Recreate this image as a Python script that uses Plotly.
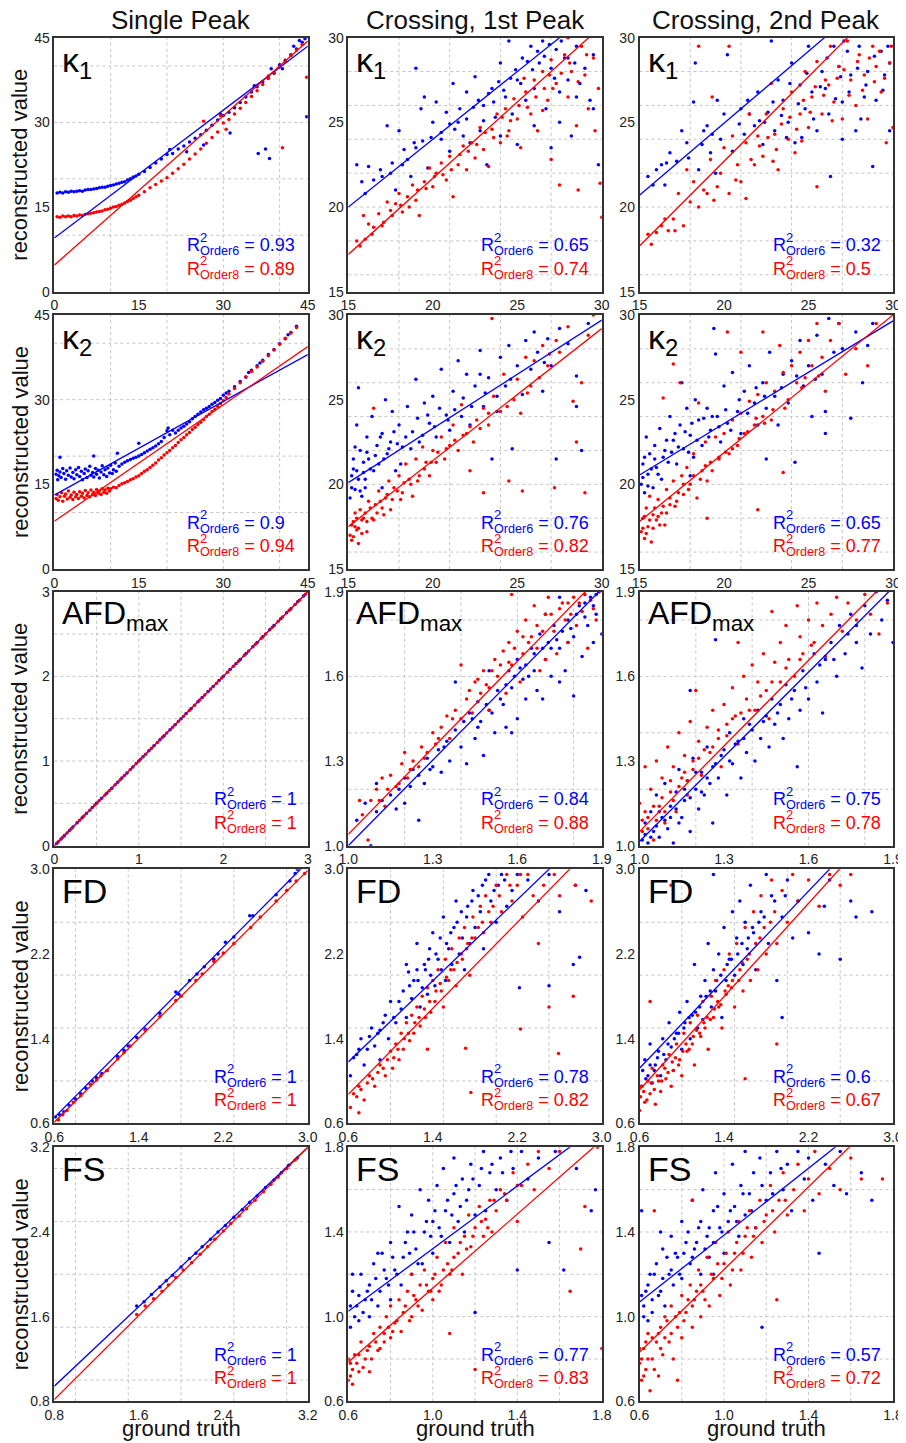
import plotly.graph_objects as go

FONT = "Liberation Sans"
BLUE = "rgb(0,0,255)"
RED = "rgb(255,0,0)"

col_titles = ["Single Peak", "Crossing, 1st Peak", "Crossing, 2nd Peak"]
row_labels = ["κ<sub>1</sub>", "κ<sub>2</sub>", "AFD<sub>max</sub>", "FD", "FS"]
r2_order6 = [["0.93", "0.65", "0.32"], ["0.9", "0.76", "0.65"], ["1", "0.84", "0.75"],
             ["1", "0.78", "0.6"], ["1", "0.77", "0.57"]]
r2_order8 = [["0.89", "0.74", "0.5"], ["0.94", "0.82", "0.77"], ["1", "0.88", "0.78"],
             ["1", "0.82", "0.67"], ["1", "0.83", "0.72"]]

# ---- axis ranges / ticks / dotted grid positions ----
kappa_sp_range = [0, 45]
kappa_sp_ticks = [0, 15, 30, 45]
kappa_sp_grid = [10, 20, 30, 40]
kappa_cr_range = [15, 30]
kappa_cr_ticks = [15, 20, 25, 30]
kappa_cr_xgrid = [18, 21, 24, 27]
kappa_cr_ygrid = [16, 18, 20, 22, 24, 26, 28]
afd_sp_range = [0, 3]
afd_sp_ticks = [0, 1, 2, 3]
afd_sp_grid = [0.5, 1.0, 1.5, 2.0, 2.5]
afd_cr_range = [1.0, 1.9]
afd_cr_ticks = [1.0, 1.3, 1.6, 1.9]
afd_cr_grid = [1.2, 1.4, 1.6, 1.8]
fd_range = [0.6, 3.0]
fd_ticks = [0.6, 1.4, 2.2, 3.0]
fd_grid = [1.0, 1.5, 2.0, 2.5]
fd_sp_xgrid = [0.8, 1.3, 1.8, 2.3, 2.8]
fs_sp_range = [0.8, 3.2]
fs_sp_ticks = [0.8, 1.6, 2.4, 3.2]
fs_sp_grid = [1.0, 1.5, 2.0, 2.5, 3.0]
fs_cr_range = [0.6, 1.8]
fs_cr_ticks = [0.6, 1.0, 1.4, 1.8]
fs_cr_grid = [0.8, 1.0, 1.2, 1.4, 1.6]

# ---- fitted lines: y values at the two ends of the x range ----
k1_sp_fit_blue = [9.5, 43.5]
k1_sp_fit_red = [4.7, 44.4]
k1_c1_fit_blue = [20.0, 32.0]
k1_c1_fit_red = [17.2, 30.7]
k1_c2_fit_blue = [20.7, 33.45]
k1_c2_fit_red = [17.7, 32.7]
k2_sp_fit_blue = [13.1, 38.0]
k2_sp_fit_red = [8.45, 39.4]
k2_c1_fit_blue = [20.1, 29.7]
k2_c1_fit_red = [17.5, 29.2]
k2_c2_fit_blue = [20.55, 29.65]
k2_c2_fit_red = [17.8, 30.0]
afd_sp_fit_blue = [0.0, 3.0]
afd_sp_fit_red = [0.0, 3.0]
afd_c1_fit_blue = [1.0, 1.91]
afd_c1_fit_red = [1.04, 1.96]
afd_c2_fit_blue = [1.015, 1.915]
afd_c2_fit_red = [1.05, 1.96]
fd_sp_fit_blue = [0.654, 3.07]
fd_sp_fit_red = [0.61, 2.99]
fd_c1_fit_blue = [1.18, 3.48]
fd_c1_fit_red = [0.874, 3.31]
fd_c2_fit_blue = [1.12, 3.63]
fd_c2_fit_red = [0.915, 3.56]
fs_sp_fit_blue = [0.943, 3.2]
fs_sp_fit_red = [0.817, 3.2]
fs_c1_fit_blue = [1.025, 1.913]
fs_c1_fit_red = [0.785, 1.834]
fs_c2_fit_blue = [1.069, 2.017]
fs_c2_fit_red = [0.832, 2.003]

# ---- scatter points (ground truth, reconstructed) ----
k1_sp_blue = [(0.5,17.5),(1,17.6),(1.5,17.5),(2,17.7),(2.5,17.6),(3,17.8),(3.5,17.7),(4,17.8),(4.5,17.9),(5,17.8),
    (5.5,18),(6,18.1),(6.5,18.1),(7,18.2),(7.5,18.3),(8,18.4),(8.5,18.5),(9,18.5),(9.5,18.7),(10,18.8),
    (10.5,18.9),(11,19.1),(11.5,19.2),(12,19.4),(12.5,19.5),(13,19.8),(13.5,20),(14,20.3),(14.5,20.5),(15,20.8),
    (16,21.3),(17,22),(18,22.8),(19,23.5),(20,24.3),(20.5,25.2),(21,24.5),(22,25.3),(23,25.8),(23.5,24.8),
    (24,26.5),(25,27.2),(26,27.8),(26.5,26),(27,28.6),(28,29.5),(29,30.4),(29.5,31.5),(30,31.2),(31,31.8),
    (31.2,28.1),(32,32.6),(33,33.5),(34,34.5),(35,35.4),(35.5,36.5),(36,36.3),(36.2,24.5),(37,37.2),(37.5,25.3),
    (38,37.8),(38.2,23.6),(38.5,39.5),(39,38.7),(40,40.2),(40.5,39.5),(41,41),(42,42),(42.5,43.5),(43,43),
    (43.5,44.5),(44,44.2),(44.5,44.8),(44.8,31)]
k1_sp_red = [(0.5,13.3),(1,13.2),(1.5,13.4),(2,13.3),(2.5,13.4),(3,13.3),(3.5,13.5),(4,13.4),(4.5,13.6),(5,13.5),
    (5.5,13.7),(6,13.8),(6.5,13.9),(7,14),(7.5,14.1),(8,14.2),(8.5,14.3),(9,14.5),(9.5,14.6),(10,14.8),
    (10.5,15),(11,15.1),(11.5,15.3),(12,15.5),(12.5,15.7),(13,16),(13.5,16.2),(14,16.5),(14.5,16.8),(15,17.1),
    (16,17.7),(17,18.4),(18,19),(19,19.6),(20,20.2),(21,21),(22,21.8),(23,22.6),(24,23.5),(25,24.4),
    (26,25.3),(26.5,30.2),(27,26.3),(28,27.3),(29,28.3),(29.5,31.2),(30,29.9),(30.5,28.8),(31,30.5),(32,31.5),
    (33,32.5),(34,33.5),(35,34.6),(36,35.6),(37,36.7),(38,37.8),(38,38.2),(39,38.8),(40,39.8),(40.5,25.5),
    (41,40.8),(42,41.8),(43,42.8),(44,43.8),(44.8,38)]
k1_c1_blue = [(15.5,22.5),(15.8,21.5),(16,20.8),(16.2,22.4),(16.5,21.6),(17,21.8),(17.3,24.8),(17.5,22),(17.8,21),
    (18,24.5),(18.2,22.5),(18.5,22.8),(18.7,21.8),(19,28.2),(19,23.5),(19.3,25.8),(19.5,26.5),(19.7,22.3),(20,25),
    (20.2,26.2),(20.5,24),(20.8,25.6),(21,23.3),(21.2,27.3),(21.5,25),(21.8,24.2),(22,26.8),(22.2,23.8),(22.5,27.7),
    (22.8,24.5),(23,26),(23.2,22.5),(23.5,27),(23.7,25.3),(24,28.5),(24,24.2),(24.3,26.5),(24.5,29.8),(24.7,25.5),
    (25,27.5),(25,23.7),(25.3,28.8),(25.5,26.3),(25.8,29.5),(26,27),(26,24.8),(26.3,28.5),(26.5,29.8),(26.7,25.8),
    (27,28.2),(27,23.5),(27.3,29.3),(27.5,26.8),(27.8,28.8),(28,27.5),(28.2,24.2),(28.5,29.5),(28.7,27.3),(29,28.2),
    (29.3,26.3),(29.5,29),(29.8,22.5),(29.5,25.8),(28.5,26.5),(27.5,25)]
k1_c1_blue_more = [(20.5,24.4),(21,24.9),(21.3,24.6),(21.6,25.8),(22,25.2),(22.4,25.9),(22.7,26.3),(23,25.1),(23.3,26.7),
    (23.6,26.2),(23.9,27.4),(24.2,26.9),(24.6,27.6),(24.9,28.1),(25.2,27.3),(25.6,28.6),(25.9,28.1),(26.2,29.2),(26.6,28.9),
    (26.9,29.6),(27.2,27.6),(27.6,29.8),(28,28.8),(28.4,28.5),(18.3,23.4),(18.9,23.8),(19.4,23.9),(19.9,24.1),(17.6,22.6),
    (16.9,22.2)]
k1_c1_red = [(15.5,18),(15.7,17.7),(15.9,19.5),(16.2,19),(16.5,18.8),(16.8,19.6),(17,18.9),(17.3,20.3),(17.5,19.8),
    (17.8,20.2),(18,20.8),(18.2,19.7),(18.5,20.6),(18.8,21.3),(19,20.4),(19.2,19.5),(19.5,21.5),(19.8,22.3),(20,21.2),
    (20.2,22),(20.5,22.6),(20.8,21.6),(21,23),(21.2,20.6),(21.5,22.5),(21.8,23.6),(22,22.2),(22.3,23.8),(22.5,22.9),
    (22.8,24.7),(23,23.4),(23.3,22.4),(23.5,24.6),(23.8,25.5),(24,23.8),(24.3,25.8),(24.5,24.5),(24.8,26.4),(25,25.2),
    (25.2,23.5),(25.5,26.8),(25.8,25.5),(26,27.5),(26.2,24.5),(26.5,28),(26.8,26.3),(27,28.7),(27,22.8),(27.3,27.3),
    (27.5,21.3),(27.8,29),(28,26.5),(28.2,28),(28.5,24.8),(28.6,21),(28.8,29.5),(29,27.8),(29.2,25.8),(29.5,28.8),
    (29.8,27),(30,19.4),(29.9,21.4),(28,30),(26.5,25.7),(29.6,24.5)]
k1_c1_red_more = [(16.0,18.1),(16.4,18.4),(17.1,19.1),(17.6,19.5),(18.1,20.1),(18.6,20.0),(19.1,21),(19.6,21.1),(20.1,21.8),
    (20.6,21.9),(21.1,22.2),(21.6,23.1),(22.1,23.3),(22.6,23.7),(23.1,24.4),(23.6,24.1),(24.1,25.3),(24.6,25.1),(25.1,26.0),
    (25.6,25.9),(26.1,26.5),(26.6,27.0),(27.1,27.0),(27.6,27.9),(28.1,28.5),(28.6,27.4),(29.1,29.0),(26.9,27.8),(25.4,27.6),
    (24.4,24.2)]
k1_c2_blue = [(15.5,21.8),(15.8,21.3),(16,22.2),(16.3,22.5),(16.5,21.3),(16.8,23.2),(17.2,22.7),(17.5,24.5),(17.8,23.8),
    (18.2,26.2),(18.3,28.5),(18.5,22.2),(18.8,24.5),(19,24.8),(19.2,23.2),(19.5,22),(19.6,26.3),(19.8,24),(20,25.5),
    (20.2,29),(20.5,23.3),(21,25.8),(21.2,24.3),(21.5,25.5),(21.8,24.8),(22,26.8),(22.3,23.7),(22.6,25.6),(22.8,29.8),
    (23,24.5),(23.2,27.5),(23.5,26.3),(23.8,25),(24,28.5),(24.2,23.8),(24.5,27.2),(24.8,25.8),(25,29.5),(25.2,26.8),
    (25.5,24.5),(25.8,28),(26,27),(26.2,25.5),(26.5,29.5),(26.8,28.3),(27,26.2),(27.3,29.2),(27.5,27.8),(27.8,24.5),
    (28,29.5),(28.3,26.5),(28.5,28),(28.8,22.4),(29,26.3),(29.3,29.2),(29.5,27.8),(29.8,24.5),(29.7,29.5),(27,24),
    (26.3,21.8)]
k1_c2_blue_more = [(20.9,24.9),(21.4,26.3),(22.1,25.1),(22.9,26.2),(23.4,25.4),(23.9,27.3),(24.4,26.1),(24.9,27.9),(25.3,25.2),
    (25.7,27.1),(26.1,28.8),(26.6,26.4),(26.9,27.7),(27.4,26.8),(27.9,28.2),(28.4,27.2),(28.9,28.9),(29.4,26.9),(29.8,28.5),
    (19.3,24.3),(18.7,23.7),(17.9,22.9),(16.6,22.6),(28.1,25.2),(27.1,29.8),(24.6,24.1),(23.7,24.1),(22.4,25.0)]
k1_c2_red = [(15.5,18.4),(15.7,17.8),(16,18.5),(16.3,18.9),(16.5,19.3),(16.7,18.6),(17,19.3),(17.3,20.8),(17.6,18.9),
    (17.8,22.2),(18,20.3),(18.2,21.5),(18.5,20),(18.8,21),(19,20.8),(19.2,22.8),(19.3,26.5),(19.6,21.2),(19.8,22),
    (20,23.5),(20.3,20.8),(20.5,24.2),(20.8,22.5),(21,21.5),(21.3,23.8),(21.5,25.5),(21.8,22.5),(22,24.2),(22.3,23),
    (22.5,25.5),(22.8,27.3),(23,24.3),(23.2,22.2),(23.5,25.8),(23.8,24),(24,26.8),(24.2,23.2),(24.5,25.5),(24.8,28),
    (25,24.7),(25.2,26.5),(25.5,28.6),(25.5,21.2),(25.8,25.5),(26,27.5),(26.3,29.5),(26.5,26.2),(26.8,28.3),(27,25.2),
    (27.3,29.8),(27.5,27.5),(27.8,26),(28,29),(28.3,27.8),(28.5,25.2),(28.8,29.5),(29,28.3),(29.3,26.8),(29.6,23.8),
    (29.8,28.5),(30,24.7),(21.3,20.5),(18.5,29.5),(20.3,29.5)]
k1_c2_red_more = [(21.6,22.8),(22.1,23.6),(22.6,24.1),(23.1,23.4),(23.4,24.9),(23.9,25.3),(24.3,24.6),(24.7,26.3),(25.1,25.6),
    (25.4,27.1),(25.9,26.6),(26.2,27.2),(26.7,27.6),(27.1,28.1),(27.4,26.6),(27.9,28.6),(28.2,26.9),(28.6,28.8),(28.9,27.4),
    (29.2,29.2),(29.5,27.6),(29.9,29.5),(26.4,25.1),(24.6,23.9),(22.9,22.7),(20.7,21.6),(19.4,20.4),(17.1,18.6)]
k2_sp_blue = [(0.3,16.8),(0.5,17.5),(0.6,15.8),(0.8,16.5),(1,17.2),(1,19.8),(1.2,16.2),(1.5,17.8),(1.7,16.9),(2,15.9),
    (2.2,17.4),(2.5,16.6),(2.8,17.9),(3,16.3),(3.3,17.1),(3.5,16),(3.8,17.6),(4,16.7),(4.3,18),(4.5,16.4),
    (4.8,17.3),(5,15.8),(5.3,16.9),(5.5,17.7),(5.8,16.2),(6,17.4),(6.3,18.2),(6.5,16.6),(6.8,17.1),(7,20),
    (7,16.3),(7.3,17.8),(7.5,16.8),(7.8,17.5),(8,16.1),(8.3,17.2),(8.5,18.3),(8.8,16.7),(9,17.6),(9.3,16.4),
    (9.5,17.9),(9.8,17),(10,18.4),(10.3,16.9),(10.5,17.6),(10.8,18.8),(11,17.3),(11.2,20.5),(11.5,18.2),(12,18.6),
    (12.5,18.9),(13,19.2),(13.5,19.4),(14,19.6),(14.5,19.8),(15,20),(15,22.3),(15.5,20.3),(16,20.6),(16.5,20.9),
    (17,21.2),(17.5,21.5),(18,21.8),(18.5,22.2),(19,22.6),(19.5,23.3),(20,24.5),(20.2,25),(20.5,23.8),(21,24.6),
    (21.5,24.1),(22,24.6),(22.5,25),(23,25.3),(23.5,25.7),(24,26.1),(24.5,26.6),(25,27),(25.5,27.4),(26,27.8),
    (26.5,28.2),(27,28.5),(27.5,28.8),(28,29.2),(28.5,29.5),(29,29.9),(29.5,30.2),(30,30.8),(30.5,31.2),(31,31.5),
    (32,32.3),(33,33.2),(34,34),(34.5,34.8),(35,35.2),(36,36),(36.5,36.5),(37,37),(38,38),(39,38.9),
    (40,39.9),(41,40.8),(41.5,41.5),(42,41.9),(43,43)]
k2_sp_red = [(0.3,12.5),(0.5,13.2),(0.7,12.2),(1,12.8),(1.3,13.5),(1.5,12),(1.8,12.9),(2,13.3),(2.3,12.4),(2.5,13.8),
    (2.8,12.7),(3,13.1),(3.3,12.3),(3.5,13.6),(3.8,12.8),(4,13.2),(4.3,12.5),(4.5,13.7),(4.8,12.9),(5,13.4),
    (5.3,12.6),(5.5,13.9),(5.8,13),(6,13.5),(6.3,12.8),(6.5,14),(6.8,13.2),(7,13.6),(7.3,13),(7.5,14.1),
    (7.8,13.4),(8,13.8),(8.3,13.2),(8.5,14.2),(8.8,13.6),(9,14),(9.3,13.4),(9.5,14.3),(9.8,13.8),(10,14.2),
    (10.5,14.5),(11,14.4),(11.5,14.8),(12,15.1),(12.5,15.3),(13,15.5),(13.5,15.8),(14,16),(14.5,16.3),(15,16.5),
    (15.5,16.9),(16,17.3),(16.5,17.6),(17,18),(17.5,18.4),(18,18.8),(18.5,19.3),(19,19.7),(19.5,20.2),(20,20.6),
    (20.5,21),(21,21.5),(21.5,21.9),(22,22.4),(22.5,22.9),(23,23.3),(23.5,23.8),(24,24.2),(24.5,24.7),(25,25.1),
    (25.5,25.6),(26,26),(26.5,26.5),(27,27),(27.5,27.4),(28,27.9),(28.5,28.3),(29,28.8),(29.5,29.3),(30,29.8),
    (30.5,30.4),(31,31),(32,32),(33,33),(34,34),(35,35),(36,35.8),(37,36.8),(38,37.8),(39,38.8),
    (40,39.8),(41,40.9),(42,41.8),(43,42.8)]
k2_c1_blue = [(15.1,19.2),(15.2,20.5),(15.3,21.5),(15.4,19.7),(15.5,23.5),(15.5,20.8),(15.6,25.7),(15.7,22),(15.8,19.3),
    (15.9,21.3),(16,20.3),(16.1,22.8),(16.2,21.5),(16.4,24),(16.5,20.8),(16.7,22.3),(16.8,21.2),(17,23),(17.2,25),
    (17.3,21.8),(17.5,22.5),(17.6,24.3),(17.8,20.8),(18,23.5),(18.2,22.2),(18.5,24.6),(18.8,23.1),(19,26.2),(19.2,22.5),
    (19.5,24.8),(19.8,23.6),(20,25.2),(20.2,22.8),(20.5,26.8),(20.8,24.1),(21,23.2),(21.2,25.5),(21.5,27.3),(21.7,24),
    (22,26.5),(22.2,23.5),(22.5,25.8),(22.8,27.9),(23,24.6),(23.3,26.3),(23.5,21.5),(23.8,25.2),(24,27.5),(24.3,25.8),
    (24.5,28.2),(24.7,22.1),(25,27),(25.3,25.3),(25.5,28.5),(25.8,26.8),(26,29),(26.2,27.8),(26.5,25.5),(26.8,28.6),
    (27,27),(27.3,21.5),(27.5,29.2),(28,28.3),(28.5,24.6),(28.5,26.4),(28.8,22),(29.2,29.5),(22.8,26.5),(17,19.8),
    (16,19.8)]
k2_c1_blue_more = [(15.2,19.8),(15.3,20.9),(15.4,22.2),(15.6,20.3),(15.7,19.6),(15.9,20.7),(16.1,21.9),(16.3,20.9),(16.6,21.7),
    (16.9,22.8),(17.1,21.5),(17.4,22.1),(17.7,23.1),(17.9,22.4),(18.1,21.2),(18.4,22.8),(18.7,22.1),(19.1,23.9),(19.4,22.9),
    (19.7,24.1),(20.1,23.4),(20.4,24.5),(20.9,23.8),(21.3,24.4),(21.8,25.1),(22.3,24.6),(23.1,25.4),(23.8,24.3),(24.6,26.2),
    (26.6,27.2)]
k2_c1_red = [(15.1,17),(15.2,16.7),(15.3,17.8),(15.4,18.3),(15.5,17.3),(15.6,16.5),(15.7,18.5),(15.8,17.9),(16,18.3),
    (16.1,17.2),(16.2,19),(16.4,18),(16.5,24.5),(16.6,18.8),(16.8,19.6),(17,18.6),(17.2,19.2),(17.4,20.2),(17.5,18.5),
    (17.7,19.8),(18,20.5),(18.2,19.5),(18.4,21.2),(18.6,20.3),(18.8,19.3),(19,21.5),(19.2,20.5),(19.4,22.2),(19.6,21.3),
    (19.8,20.5),(20,22),(20.2,21.3),(20.5,22.8),(20.7,21.5),(21,22.3),(21.2,23.5),(21.5,22),(21.7,24.7),(22,23),
    (22.2,20.8),(22.4,22.5),(22.6,23.8),(23,24.5),(23,19.5),(23.3,23.5),(23.6,25.2),(24,24.3),(24.2,26.5),(24.5,20.2),
    (24.8,25),(25,26.2),(25.2,24.2),(25.3,19.6),(25.5,27.5),(25.8,25.8),(26,27.3),(26.3,26.3),(26.5,28.2),(26.8,27),
    (27.2,19.8),(27.3,28.5),(27.5,27.8),(28,29.3),(28.3,24.9),(28.5,22.5),(28.8,26),(29,19.5),(29.5,30),(29.2,28.8),
    (23.5,29.8)]
k2_c1_red_more = [(15.2,17.6),(15.3,16.9),(15.4,17.5),(15.5,18.0),(15.6,17.4),(15.8,17.1),(15.9,18.0),(16.1,17.8),(16.3,18.6),
    (16.5,17.9),(16.7,18.3),(16.9,19.0),(17.1,18.2),(17.3,19.4),(17.6,19.1),(17.9,19.6),(18.1,19.1),(18.3,20.1),(18.7,20.0),
    (19.1,20.2),(19.5,20.9),(19.9,21.3),(20.3,21.9),(20.8,22.1),(21.3,22.6),(21.8,22.9),(22.2,23.4),(22.8,23.3),(23.3,24.2),
    (24.4,24.6),(25.6,25.4),(26.9,27.7)]
k2_c2_blue = [(15.1,20),(15.2,21.2),(15.3,19.5),(15.4,22.8),(15.5,20.6),(15.6,21.8),(15.8,19.8),(15.9,22.3),(16,21),
    (16.2,23.3),(16.3,20.3),(16.5,22),(16.7,21.3),(16.8,24),(17,22.6),(17.2,21.2),(17.4,23.5),(17.5,26),(17.6,22.1),
    (17.8,24.5),(18,22.9),(18.2,21.6),(18.3,25),(18.5,23.8),(18.7,22.3),(19,24.5),(19.2,23.2),(19.4,29.2),(19.5,27.7),
    (19.6,24),(19.8,22.5),(20,25.8),(20.2,23.6),(20.5,26.6),(20.8,24.3),(21,23),(21.2,25.5),(21.5,27),(21.8,24.8),
    (22,23.5),(22.3,26),(22.5,24.5),(22.7,27.8),(23,25.2),(23.2,23.5),(23.5,26.5),(23.8,24.8),(24,27.3),(24.2,21.3),
    (24.5,28.5),(24.7,25.8),(25,27),(25.2,24),(25.5,28.8),(25.8,26.5),(26,23),(26.2,29.8),(26.5,27.8),(26.8,29.5),
    (27,28),(27.5,23.9),(27.8,29),(28.2,26),(28.5,28.2),(28.8,29.5),(26,24.3),(22.5,21.5),(18,20.5)]
k2_c2_blue_more = [(15.2,20.4),(15.3,21.6),(15.5,19.9),(15.7,20.9),(15.9,21.5),(16.1,20.6),(16.4,21.6),(16.6,22.6),(16.9,21.9),
    (17.1,23.0),(17.3,22.2),(17.7,23.1),(17.9,21.9),(18.1,23.6),(18.4,22.6),(18.8,23.9),(19.1,22.8),(19.3,24.0),(19.7,23.4),
    (20.1,24.4),(20.4,23.2),(20.9,25.0),(21.4,24.2),(21.9,25.7),(22.4,25.2),(23.4,25.7),(24.3,26.4),(25.4,26.2)]
k2_c2_red = [(15.1,17.2),(15.2,18),(15.3,16.8),(15.4,18.6),(15.5,17.5),(15.6,19.3),(15.7,16.6),(15.8,18.2),(16,17.9),
    (16.1,19.1),(16.3,18.3),(16.4,25.1),(16.5,17.6),(16.6,19.7),(16.8,18.8),(17,20.2),(17,27.1),(17.2,19),(17.4,26),
    (17.5,20.5),(17.6,19.4),(17.8,21),(18,20),(18.2,21.8),(18.4,19.2),(18.5,24.8),(18.7,20.8),(18.9,22.5),(19,18),
    (19.2,21.3),(19.5,22.8),(19.7,21.5),(20,23),(20.2,29),(20.3,21.8),(20.5,23.8),(20.8,22.3),(21,27.8),(21,24.2),
    (21.2,23),(21.5,24.9),(21.8,23.5),(22,18.5),(22,25.3),(22.3,24),(22.5,26),(22.8,23.8),(23,25.5),(23.3,28.2),
    (23.5,20.7),(23.5,26.6),(23.8,25),(24,27),(24.3,26),(24.5,27.8),(24.8,26.3),(25,28.5),(25.2,27),(25.5,29.5),
    (25.8,27.5),(26,25.5),(26.3,28.5),(26.8,29.5),(27.2,26.5),(27.8,28),(28.5,27),(29,29.5),(22.3,29),(19,20.2)]
k2_c2_red_more = [(15.2,17.4),(15.3,18.1),(15.4,17.1),(15.6,17.9),(15.8,17.4),(15.9,18.6),(16.1,18.1),(16.2,17.6),(16.4,18.7),
    (16.6,18.3),(16.8,19.2),(17.1,18.7),(17.3,19.5),(17.6,20.0),(17.9,19.7),(18.2,20.5),(18.6,20.3),(18.9,21.1),(19.3,20.8),
    (19.7,21.6),(20.1,21.9),(20.5,22.1),(20.9,22.7),(21.4,23.1),(21.9,23.9),(22.4,23.6),(22.9,24.4),(23.6,24.5),(24.6,25.7),
    (25.6,26.4)]
afd_sp_blue = [(0.03,0.03),(0.08,0.08),(0.12,0.12),(0.18,0.18),(0.22,0.22),(0.27,0.27),(0.33,0.33),(0.38,0.38),
    (0.45,0.45),(0.5,0.5),(0.56,0.56),(0.62,0.62),(0.68,0.68),(0.75,0.75),(0.8,0.8),(0.86,0.86),(0.93,0.93),
    (1.0,1.0),(1.05,1.05),(1.12,1.12),(1.18,1.18),(1.25,1.25),(1.3,1.3),(1.37,1.37),(1.43,1.43),(1.5,1.5),
    (1.56,1.56),(1.62,1.62),(1.7,1.7),(1.75,1.75),(1.82,1.82),(1.88,1.88),(1.95,1.95),(2.0,2.0),(2.08,2.08),
    (2.15,2.15),(2.2,2.2),(2.27,2.27),(2.35,2.35),(2.4,2.4),(2.47,2.47),(2.55,2.55),(2.6,2.6),(2.68,2.68),
    (2.75,2.75),(2.8,2.8),(2.88,2.88),(2.95,2.95)]
afd_sp_red = [(0.05,0.05),(0.1,0.1),(0.15,0.15),(0.2,0.2),(0.3,0.3),(0.35,0.35),(0.42,0.42),(0.48,0.48),
    (0.53,0.53),(0.6,0.6),(0.65,0.65),(0.72,0.72),(0.78,0.78),(0.83,0.83),(0.9,0.9),(0.97,0.97),(1.02,1.02),
    (1.08,1.08),(1.15,1.15),(1.22,1.22),(1.28,1.28),(1.33,1.33),(1.4,1.4),(1.47,1.47),(1.53,1.53),(1.6,1.6),
    (1.66,1.66),(1.72,1.72),(1.78,1.78),(1.85,1.85),(1.92,1.92),(1.98,1.98),(2.05,2.05),(2.12,2.12),(2.18,2.18),
    (2.25,2.25),(2.3,2.3),(2.38,2.38),(2.45,2.45),(2.5,2.5),(2.58,2.58),(2.65,2.65),(2.7,2.7),(2.78,2.78),
    (2.85,2.85),(2.9,2.9),(2.97,2.97)]
afd_c1_blue = [(1.03,1.09),(1.06,1.15),(1.08,1.0),(1.1,1.12),(1.1,1.22),(1.12,1.16),(1.15,1.18),(1.17,1.13),(1.18,1.2),
    (1.2,1.24),(1.2,1.15),(1.22,1.21),(1.23,1.27),(1.25,1.09),(1.25,1.25),(1.27,1.22),(1.28,1.31),(1.3,1.28),(1.32,1.34),
    (1.33,1.26),(1.35,1.37),(1.36,1.3),(1.38,1.41),(1.38,1.58),(1.4,1.35),(1.41,1.44),(1.42,1.29),(1.43,1.47),(1.45,1.38),
    (1.46,1.51),(1.47,1.44),(1.48,1.32),(1.5,1.48),(1.5,1.62),(1.52,1.4),(1.53,1.55),(1.55,1.5),(1.56,1.42),(1.57,1.62),
    (1.58,1.56),(1.6,1.45),(1.6,1.66),(1.62,1.59),(1.63,1.52),(1.65,1.7),(1.66,1.62),(1.67,1.55),(1.68,1.75),(1.7,1.66),
    (1.7,1.82),(1.72,1.6),(1.73,1.78),(1.75,1.7),(1.75,1.88),(1.77,1.62),(1.78,1.8),(1.8,1.74),(1.8,1.53),(1.82,1.85),
    (1.83,1.67),(1.85,1.78),(1.86,1.88),(1.87,1.72),(1.88,1.82),(1.89,1.9),(1.9,1.75),(1.69,1.52),(1.58,1.4),(1.75,1.58)]
afd_c1_blue_more = [(1.44,1.45),(1.46,1.42),(1.49,1.5),(1.51,1.47),(1.54,1.52),(1.59,1.6),(1.61,1.63),(1.64,1.6),(1.66,1.68),
    (1.69,1.7),(1.71,1.72),(1.74,1.73),(1.76,1.76),(1.79,1.77),(1.81,1.82),(1.84,1.81),(1.87,1.85),(1.88,1.89),(1.84,1.86),
    (1.78,1.72),(1.72,1.7),(1.63,1.64),(1.56,1.57),(1.34,1.35),(1.29,1.27)]
afd_c1_red = [(1.04,1.16),(1.05,1.11),(1.07,1.02),(1.08,1.16),(1.1,1.2),(1.12,1.24),(1.13,1.14),(1.15,1.25),(1.17,1.21),
    (1.19,1.29),(1.2,1.33),(1.21,1.24),(1.23,1.3),(1.25,1.28),(1.26,1.35),(1.28,1.33),(1.3,1.4),(1.31,1.36),(1.33,1.42),
    (1.35,1.46),(1.36,1.38),(1.38,1.48),(1.4,1.45),(1.4,1.64),(1.42,1.52),(1.44,1.47),(1.45,1.58),(1.47,1.54),(1.48,1.62),
    (1.5,1.56),(1.52,1.66),(1.53,1.6),(1.55,1.69),(1.56,1.54),(1.57,1.72),(1.58,1.64),(1.6,1.76),(1.61,1.58),(1.62,1.68),
    (1.63,1.8),(1.65,1.74),(1.66,1.85),(1.67,1.7),(1.68,1.62),(1.7,1.82),(1.71,1.88),(1.73,1.76),(1.74,1.68),(1.76,1.86),
    (1.77,1.8),(1.78,1.72),(1.8,1.88),(1.81,1.78),(1.83,1.83),(1.85,1.7),(1.86,1.87),(1.88,1.8),(1.89,1.9),(1.58,1.89),
    (1.5,1.48),(1.7,1.66)]
afd_c1_red_more = [(1.43,1.55),(1.46,1.59),(1.49,1.57),(1.51,1.62),(1.54,1.64),(1.57,1.65),(1.59,1.7),(1.62,1.74),(1.64,1.72),
    (1.67,1.78),(1.69,1.76),(1.72,1.82),(1.75,1.84),(1.78,1.86),(1.79,1.82),(1.82,1.86),(1.84,1.89),(1.87,1.84),(1.37,1.45),
    (1.32,1.38),(1.27,1.31),(1.22,1.27),(1.18,1.22),(1.14,1.2),(1.11,1.16)]
afd_c2_blue = [(1.01,1.02),(1.02,1.08),(1.03,1.01),(1.04,1.12),(1.05,1.05),(1.06,1.18),(1.07,1.03),(1.08,1.1),(1.09,1.22),
    (1.1,1.06),(1.11,1.14),(1.12,1.01),(1.13,1.19),(1.14,1.27),(1.15,1.1),(1.16,1.16),(1.17,1.23),(1.18,1.05),(1.19,1.31),
    (1.2,1.2),(1.21,1.13),(1.22,1.26),(1.23,1.18),(1.24,1.35),(1.25,1.22),(1.26,1.08),(1.27,1.29),(1.28,1.24),(1.3,1.34),
    (1.31,1.18),(1.32,1.4),(1.33,1.29),(1.35,1.37),(1.36,1.24),(1.37,1.45),(1.38,1.33),(1.4,1.41),(1.41,1.3),(1.42,1.48),
    (1.43,1.38),(1.45,1.46),(1.46,1.35),(1.47,1.52),(1.48,1.43),(1.5,1.5),(1.51,1.38),(1.52,1.57),(1.53,1.45),(1.55,1.55),
    (1.56,1.28),(1.57,1.48),(1.58,1.62),(1.6,1.52),(1.62,1.68),(1.63,1.58),(1.65,1.47),(1.66,1.66),(1.68,1.72),(1.7,1.6),
    (1.71,1.78),(1.73,1.68),(1.75,1.82),(1.77,1.72),(1.79,1.63),(1.8,1.85),(1.82,1.75),(1.84,1.9),(1.86,1.8),(1.88,1.87),
    (1.9,1.72),(1.77,1.78),(1.27,1.73),(1.18,1.55)]
afd_c2_blue_more = [(1.02,1.04),(1.04,1.03),(1.06,1.07),(1.07,1.12),(1.09,1.09),(1.11,1.1),(1.13,1.13),(1.14,1.08),(1.16,1.2),
    (1.18,1.17),(1.2,1.26),(1.22,1.19),(1.24,1.24),(1.26,1.28),(1.29,1.32),(1.32,1.3),(1.34,1.36),(1.37,1.38),(1.39,1.43),
    (1.44,1.44),(1.49,1.47),(1.54,1.52),(1.59,1.56),(1.64,1.64),(1.69,1.66),(1.74,1.75)]
afd_c2_red = [(1.0,1.15),(1.01,1.05),(1.02,1.28),(1.03,1.1),(1.04,1.2),(1.05,1.02),(1.06,1.3),(1.07,1.14),(1.08,1.24),
    (1.09,1.08),(1.1,1.35),(1.11,1.19),(1.12,1.28),(1.13,1.12),(1.14,1.4),(1.15,1.24),(1.16,1.32),(1.17,1.18),(1.18,1.44),
    (1.19,1.3),(1.2,1.55),(1.21,1.37),(1.22,1.25),(1.24,1.42),(1.25,1.33),(1.26,1.48),(1.28,1.38),(1.29,1.28),(1.3,1.5),
    (1.31,1.43),(1.33,1.56),(1.34,1.46),(1.35,1.36),(1.37,1.6),(1.38,1.52),(1.4,1.64),(1.41,1.48),(1.42,1.58),(1.44,1.68),
    (1.45,1.55),(1.46,1.45),(1.48,1.65),(1.5,1.72),(1.5,1.58),(1.52,1.78),(1.53,1.66),(1.55,1.6),(1.56,1.85),(1.57,1.74),
    (1.58,1.68),(1.6,1.8),(1.62,1.72),(1.63,1.86),(1.65,1.78),(1.66,1.67),(1.68,1.82),(1.7,1.88),(1.72,1.76),(1.74,1.86),
    (1.77,1.8),(1.8,1.89),(1.82,1.82),(1.85,1.75),(1.88,1.86),(1.47,1.83),(1.35,1.72)]
afd_c2_red_more = [(1.01,1.09),(1.02,1.12),(1.03,1.06),(1.05,1.14),(1.06,1.09),(1.08,1.17),(1.09,1.12),(1.11,1.23),(1.12,1.16),
    (1.14,1.21),(1.16,1.26),(1.17,1.23),(1.19,1.27),(1.21,1.31),(1.23,1.34),(1.26,1.35),(1.28,1.41),(1.31,1.39),(1.33,1.45),
    (1.36,1.47),(1.39,1.48),(1.43,1.53),(1.47,1.58),(1.52,1.63),(1.57,1.66),(1.61,1.71)]
fd_sp_blue = [(0.61,0.66),(0.65,0.68),(0.69,0.71),(0.74,0.77),(0.8,0.83),(0.85,0.88),(0.9,0.93),(0.96,1.0),(1.0,1.03),
    (1.05,1.07),(1.1,1.1),(1.2,1.23),(1.26,1.29),(1.3,1.33),(1.38,1.41),(1.46,1.49),(1.6,1.64),(1.75,1.84),(1.78,1.82),
    (1.88,1.95),(1.95,2.01),(2.02,2.08),(2.11,2.15),(2.15,2.2),(2.22,2.31),(2.3,2.36),(2.45,2.56),(2.48,2.56),(2.7,2.76),
    (2.83,2.89),(2.88,2.96),(2.9,3.0)]
fd_sp_red = [(0.64,0.63),(0.68,0.68),(0.72,0.72),(0.78,0.8),(0.85,0.86),(0.94,0.97),(1.0,1.01),(1.04,1.05),(1.1,1.1),
    (1.2,1.21),(1.26,1.27),(1.32,1.33),(1.46,1.48),(1.6,1.61),(1.75,1.76),(1.8,1.8),(1.94,1.95),(2.0,2.01),(2.11,2.13),
    (2.2,2.21),(2.3,2.3),(2.46,2.45),(2.55,2.55),(2.7,2.7),(2.8,2.8),(2.89,2.89),(2.97,2.96)]
fd_c1_blue = [(0.62,1.05),(0.65,1.22),(0.7,1.3),(0.75,1.15),(0.8,1.42),(0.85,1.33),(0.9,1.48),(0.95,1.62),(0.98,1.4),
    (1.0,1.75),(1.05,1.55),(1.1,1.68),(1.12,1.85),(1.15,1.6),(1.2,1.78),(1.22,1.95),(1.25,2.3),(1.28,1.7),(1.3,1.88),
    (1.32,2.1),(1.35,1.82),(1.38,2.0),(1.4,2.4),(1.42,1.9),(1.45,2.15),(1.48,2.05),(1.5,2.55),(1.52,1.95),(1.55,2.25),
    (1.58,2.1),(1.6,2.45),(1.62,2.7),(1.65,2.2),(1.68,2.35),(1.7,2.05),(1.72,2.55),(1.75,2.3),(1.78,2.8),(1.8,2.45),
    (1.85,2.6),(1.88,2.25),(1.9,2.9),(1.95,2.7),(2.0,2.5),(2.02,2.85),(2.05,2.95),(2.1,2.65),(2.15,2.8),(2.2,2.95),
    (2.22,1.88),(2.3,2.9),(2.4,2.7),(2.5,1.9),(2.5,2.95),(2.6,2.6),(2.73,2.1),(2.79,2.17),(2.75,2.85),(2.85,2.8),
    (1.15,2.1),(0.9,1.2)]
fd_c1_blue_more = [(0.68,1.25),(0.72,1.4),(0.78,1.3),(0.82,1.5),(0.88,1.45),(0.93,1.55),(1.03,1.6),(1.08,1.75),(1.18,1.9),
    (1.26,1.95),(1.33,2.05),(1.37,2.25),(1.43,2.2),(1.47,2.35),(1.53,2.3),(1.57,2.4),(1.63,2.5),(1.67,2.6),(1.73,2.65),
    (1.77,2.7),(1.83,2.75),(1.87,2.85),(1.93,2.95),(1.98,2.8),(2.08,2.9),(1.25,2.05),(1.17,2.03),(1.36,2.15)]
fd_c1_red = [(0.62,0.75),(0.65,0.88),(0.7,0.95),(0.75,0.82),(0.8,1.05),(0.85,0.95),(0.9,1.15),(0.95,1.05),(1.0,1.28),
    (1.02,1.12),(1.05,1.35),(1.08,1.2),(1.1,1.45),(1.12,1.3),(1.15,1.55),(1.18,1.38),(1.2,1.62),(1.22,1.45),(1.25,1.7),
    (1.28,1.52),(1.3,1.8),(1.33,1.6),(1.35,1.88),(1.38,1.65),(1.4,1.95),(1.42,1.75),(1.45,2.05),(1.48,1.85),(1.5,1.7),
    (1.52,2.15),(1.55,1.95),(1.58,2.25),(1.6,2.05),(1.62,1.9),(1.65,2.35),(1.68,2.15),(1.7,2.45),(1.72,2.25),(1.75,2.0),
    (1.78,2.55),(1.8,2.35),(1.85,2.65),(1.88,2.4),(1.9,2.75),(1.95,2.5),(2.0,2.85),(2.05,2.6),(2.1,2.95),(2.15,2.7),
    (2.2,2.85),(2.25,2.55),(2.3,2.95),(2.35,2.75),(2.4,2.3),(2.45,2.85),(2.5,1.7),(2.55,2.95),(2.6,2.75),(2.73,1.8),
    (2.75,2.85),(2.59,1.26),(2.9,2.7),(2.23,1.49),(1.71,1.31),(1.76,0.89),(1.35,1.3),(0.7,0.7)]
fd_c1_red_more = [(0.68,0.85),(0.72,0.92),(0.78,0.98),(0.83,1.02),(0.88,1.08),(0.93,1.12),(0.97,1.2),(1.03,1.22),(1.07,1.3),
    (1.13,1.4),(1.17,1.45),(1.23,1.55),(1.27,1.6),(1.32,1.68),(1.37,1.75),(1.43,1.85),(1.47,1.92),(1.53,1.98),(1.57,2.05),
    (1.63,2.12),(1.67,2.2),(1.73,2.3),(1.77,2.35),(1.83,2.45),(1.87,2.5),(1.93,2.6),(1.97,2.65),(2.03,2.75),(2.13,2.85),
    (2.23,2.95)]
fd_c2_blue = [(0.62,0.95),(0.65,1.2),(0.68,1.05),(0.7,1.35),(0.72,0.98),(0.75,1.15),(0.78,1.28),(0.8,1.05),(0.82,1.4),
    (0.85,1.2),(0.88,1.55),(0.9,1.32),(0.92,1.1),(0.95,1.45),(0.98,1.65),(1.0,1.3),(1.02,1.5),(1.05,1.75),(1.08,1.4),
    (1.1,1.62),(1.12,2.1),(1.15,1.5),(1.18,1.8),(1.2,1.58),(1.22,1.95),(1.25,2.3),(1.28,1.7),(1.3,2.05),(1.32,1.85),
    (1.35,2.2),(1.38,1.6),(1.4,2.45),(1.42,1.95),(1.45,2.15),(1.48,2.6),(1.5,2.0),(1.52,2.35),(1.55,2.7),(1.58,2.1),
    (1.6,2.5),(1.62,2.25),(1.65,2.85),(1.68,2.4),(1.7,2.05),(1.75,2.6),(1.8,2.95),(1.82,2.3),(1.85,2.75),(1.9,1.95),
    (1.95,2.55),(2.0,2.9),(2.05,2.35),(2.1,2.7),(2.2,2.4),(2.3,2.2),(2.35,2.65),(2.4,2.9),(2.5,2.15),(2.6,2.7),
    (2.65,2.55),(2.8,2.6),(1.95,1.6),(1.3,2.95)]
fd_c2_blue_more = [(0.63,1.1),(0.66,1.02),(0.7,1.15),(0.74,1.1),(0.77,1.22),(0.83,1.25),(0.87,1.35),(0.93,1.4),(0.97,1.45),
    (1.03,1.55),(1.07,1.6),(1.13,1.65),(1.17,1.7),(1.23,1.8),(1.27,1.85),(1.33,1.95),(1.37,2.0),(1.43,2.1),(1.47,2.15),
    (1.53,2.2),(1.57,2.3),(1.63,2.35),(1.67,2.45),(1.73,2.5),(1.78,2.55),(1.88,2.7),(1.98,2.75)]
fd_c2_red = [(0.6,0.72),(0.62,0.95),(0.65,0.8),(0.68,1.0),(0.7,0.88),(0.72,1.12),(0.75,0.78),(0.78,1.0),(0.8,0.9),
    (0.82,1.15),(0.85,1.02),(0.88,1.25),(0.9,0.95),(0.92,1.1),(0.95,1.35),(0.98,1.2),(1.0,1.05),(1.02,1.45),(1.05,1.28),
    (1.08,1.55),(1.1,1.35),(1.12,1.15),(1.15,1.62),(1.18,1.42),(1.2,1.75),(1.22,1.5),(1.25,1.3),(1.28,1.8),(1.3,1.6),
    (1.32,1.95),(1.35,1.7),(1.38,1.5),(1.4,2.05),(1.42,1.82),(1.45,2.2),(1.48,1.95),(1.5,1.7),(1.52,2.3),(1.55,2.05),
    (1.58,1.85),(1.6,2.45),(1.62,2.15),(1.65,1.95),(1.68,2.6),(1.7,2.3),(1.72,2.05),(1.75,2.75),(1.78,2.45),(1.8,2.2),
    (1.85,2.9),(1.88,2.6),(1.9,2.3),(1.95,2.8),(2.0,2.5),(2.05,2.95),(2.1,2.7),(2.2,2.9),(2.3,2.65),(2.4,2.95),
    (2.5,2.85),(2.6,2.95),(0.9,2.85),(0.7,1.75),(1.6,1.02),(1.9,1.35)]
fd_c2_red_more = [(0.61,0.85),(0.64,0.9),(0.67,0.82),(0.71,0.98),(0.74,0.92),(0.77,1.05),(0.81,1.0),(0.84,1.12),(0.87,1.08),
    (0.91,1.18),(0.94,1.22),(0.97,1.15),(1.01,1.28),(1.04,1.35),(1.07,1.3),(1.11,1.42),(1.14,1.48),(1.17,1.45),(1.21,1.55),
    (1.24,1.6),(1.27,1.58),(1.31,1.68),(1.34,1.75),(1.37,1.72),(1.41,1.85),(1.44,1.9),(1.47,1.88),(1.54,1.95),(1.57,2.12),
    (1.64,2.2),(1.74,2.35),(1.84,2.5)]
fs_sp_blue = [(1.58,1.7),(1.65,1.74),(1.72,1.81),(1.8,1.88),(1.86,1.94),(1.92,1.99),(2.0,2.07),(2.08,2.15),(2.14,2.2),
    (2.2,2.26),(2.28,2.33),(2.35,2.4),(2.42,2.46),(2.5,2.54),(2.58,2.61),(2.65,2.68),(2.72,2.74),(2.8,2.82),
    (2.88,2.89),(2.95,2.96),(3.02,3.03),(3.1,3.1)]
fs_sp_red = [(1.58,1.62),(1.66,1.7),(1.74,1.77),(1.82,1.84),(1.88,1.9),(1.95,1.97),(2.02,2.04),(2.1,2.11),(2.18,2.19),
    (2.25,2.26),(2.32,2.33),(2.4,2.41),(2.47,2.48),(2.55,2.55),(2.62,2.62),(2.7,2.7),(2.78,2.78),(2.85,2.85),
    (2.92,2.92),(3.0,3.0),(3.08,3.08)]
fs_c1_blue = [(0.61,0.95),(0.62,1.12),(0.64,1.05),(0.65,0.98),(0.66,1.2),(0.68,1.08),(0.7,1.0),(0.7,1.15),(0.72,1.25),
    (0.74,1.05),(0.75,1.12),(0.76,1.3),(0.78,1.18),(0.8,1.08),(0.8,1.35),(0.82,1.22),(0.84,1.52),(0.85,1.15),(0.86,1.28),
    (0.88,1.4),(0.9,1.2),(0.9,1.48),(0.92,1.32),(0.94,1.6),(0.95,1.25),(0.96,1.4),(0.98,1.55),(1.0,1.3),(1.0,1.45),
    (1.02,1.62),(1.04,1.38),(1.05,1.7),(1.06,1.5),(1.08,1.35),(1.1,1.58),(1.1,1.75),(1.12,1.45),(1.14,1.65),(1.15,1.4),
    (1.16,1.55),(1.18,1.72),(1.2,1.48),(1.2,1.02),(1.22,1.62),(1.24,1.78),(1.25,1.5),(1.27,1.68),(1.3,1.6),(1.32,1.75),
    (1.35,1.55),(1.38,1.7),(1.4,1.22),(1.42,1.78),(1.45,1.65),(1.5,1.75),(1.55,1.35),(1.58,1.78),(1.62,1.22),(1.68,1.7),
    (1.75,1.5),(1.77,1.6),(0.74,1.3),(0.62,1.2)]
fs_c1_blue_more = [(0.61,1.05),(0.63,1.0),(0.65,1.1),(0.67,1.02),(0.69,1.12),(0.71,1.08),(0.73,1.18),(0.77,1.22),(0.79,1.15),
    (0.81,1.28),(0.83,1.2),(0.87,1.35),(0.89,1.3),(0.91,1.4),(0.93,1.25),(0.97,1.45),(0.99,1.38),(1.01,1.5),(1.03,1.42),
    (1.07,1.55),(1.09,1.48),(1.11,1.62),(1.13,1.52),(1.17,1.6),(1.19,1.65),(1.23,1.7),(1.28,1.72),(1.33,1.68),(1.37,1.78)]
fs_c1_red = [(0.6,0.7),(0.61,0.78),(0.62,0.68),(0.63,0.82),(0.65,0.74),(0.66,0.88),(0.68,0.8),(0.7,0.86),(0.7,0.74),
    (0.72,0.92),(0.74,0.84),(0.75,0.95),(0.77,0.88),(0.78,1.0),(0.8,0.9),(0.8,1.05),(0.82,0.97),(0.84,1.08),(0.85,0.93),
    (0.86,1.02),(0.88,1.12),(0.9,1.0),(0.9,1.2),(0.92,1.08),(0.94,1.15),(0.95,1.03),(0.96,1.22),(0.98,1.12),(1.0,1.18),
    (1.0,1.08),(1.02,1.28),(1.04,1.15),(1.05,1.22),(1.06,1.35),(1.08,1.2),(1.1,1.28),(1.1,1.42),(1.12,1.3),(1.14,1.2),
    (1.15,1.38),(1.17,1.48),(1.18,1.33),(1.2,1.42),(1.22,1.52),(1.24,1.38),(1.25,1.46),(1.27,1.55),(1.28,1.4),(1.3,1.5),
    (1.32,1.6),(1.35,1.55),(1.38,1.68),(1.4,1.45),(1.42,1.62),(1.45,1.72),(1.48,1.6),(1.5,1.78),(1.55,1.7),(1.6,1.78),
    (1.65,1.12),(1.7,1.32),(1.72,1.52),(1.78,1.8),(1.8,0.85),(1.08,0.92),(1.2,0.75)]
fs_c1_red_more = [(0.6,0.8),(0.61,0.72),(0.62,0.75),(0.64,0.78),(0.65,0.82),(0.67,0.76),(0.69,0.84),(0.71,0.8),(0.73,0.88),
    (0.75,0.85),(0.77,0.92),(0.79,0.95),(0.81,0.93),(0.83,0.98),(0.87,1.05),(0.89,0.98),(0.91,1.1),(0.93,1.05),(0.97,1.15),
    (0.99,1.12),(1.01,1.2),(1.03,1.12),(1.07,1.25),(1.09,1.22),(1.13,1.35),(1.16,1.32),(1.19,1.38),(1.23,1.45),(1.26,1.42),
    (1.29,1.55),(1.34,1.58),(1.4,1.62)]
fs_c2_blue = [(0.61,1.5),(0.62,1.05),(0.63,1.12),(0.64,0.98),(0.65,1.2),(0.66,1.08),(0.68,1.25),(0.7,1.12),(0.71,1.32),
    (0.72,1.05),(0.74,1.2),(0.75,1.38),(0.76,1.15),(0.78,1.28),(0.8,1.45),(0.8,1.18),(0.82,1.35),(0.84,1.25),(0.85,1.55),
    (0.86,1.32),(0.88,1.42),(0.89,1.2),(0.9,1.6),(0.92,1.38),(0.93,1.28),(0.95,1.5),(0.96,1.68),(0.98,1.42),(1.0,1.58),
    (1.0,1.3),(1.02,1.45),(1.04,1.72),(1.05,1.52),(1.07,1.38),(1.08,1.62),(1.1,1.78),(1.1,1.48),(1.12,1.58),(1.14,1.68),
    (1.15,1.42),(1.17,1.75),(1.18,0.95),(1.2,1.55),(1.22,1.68),(1.25,1.78),(1.28,1.6),(1.3,1.72),(1.32,1.5),(1.35,1.78),
    (1.38,1.65),(1.4,1.75),(1.42,1.55),(1.45,1.3),(1.48,1.72),(1.52,1.62),(1.55,1.78),(1.58,1.58),(1.65,1.68),(1.7,1.55),
    (0.95,1.2),(0.7,1.4)]
fs_c2_blue_more = [(0.61,1.1),(0.62,1.0),(0.64,1.15),(0.66,1.02),(0.67,1.2),(0.69,1.1),(0.71,1.18),(0.73,1.28),(0.75,1.22),
    (0.77,1.3),(0.79,1.2),(0.81,1.3),(0.83,1.4),(0.85,1.28),(0.87,1.35),(0.89,1.45),(0.91,1.32),(0.93,1.42),(0.95,1.35),
    (0.97,1.52),(0.99,1.4),(1.03,1.5),(1.06,1.45),(1.09,1.58),(1.13,1.5),(1.18,1.62),(1.23,1.58),(1.27,1.7)]
fs_c2_red = [(0.6,0.78),(0.61,0.7),(0.62,0.85),(0.63,0.75),(0.64,0.92),(0.65,0.65),(0.66,0.8),(0.68,0.88),(0.69,0.72),
    (0.7,0.95),(0.71,0.82),(0.72,1.0),(0.74,0.88),(0.75,1.05),(0.76,0.8),(0.78,0.95),(0.8,1.1),(0.8,0.9),(0.82,1.02),
    (0.84,1.15),(0.85,0.95),(0.86,1.08),(0.88,1.22),(0.89,1.0),(0.9,1.12),(0.92,1.28),(0.93,1.05),(0.95,1.18),(0.96,1.35),
    (0.98,1.1),(1.0,1.25),(1.02,1.4),(1.03,1.15),(1.05,1.3),(1.07,1.45),(1.08,1.22),(1.1,1.38),(1.12,1.5),(1.13,1.28),
    (1.15,1.42),(1.17,1.55),(1.18,1.35),(1.2,1.48),(1.22,1.62),(1.24,1.4),(1.26,1.55),(1.28,1.68),(1.3,1.48),(1.33,1.6),
    (1.35,1.72),(1.38,1.5),(1.4,1.65),(1.43,1.78),(1.45,1.58),(1.5,1.7),(1.55,1.6),(1.6,1.75),(1.65,1.65),(1.75,1.65),
    (0.67,1.5),(0.85,1.55),(1.25,1.08),(0.78,0.7)]
fs_c2_red_more = [(0.6,0.85),(0.61,0.8),(0.62,0.72),(0.63,0.88),(0.64,0.8),(0.66,0.9),(0.67,0.75),(0.69,0.92),(0.7,0.85),
    (0.72,0.9),(0.73,0.98),(0.75,0.92),(0.77,1.0),(0.79,1.02),(0.81,0.98),(0.83,1.08),(0.85,1.05),(0.87,1.12),(0.89,1.15),
    (0.91,1.08),(0.94,1.2),(0.97,1.25),(0.99,1.18),(1.01,1.3),(1.04,1.22),(1.06,1.35),(1.09,1.3),(1.11,1.42),(1.14,1.38),
    (1.19,1.45),(1.23,1.5),(1.29,1.55)]

# ---- panel table (built from the named lists above) ----
panels = [
    (kappa_sp_range, kappa_sp_ticks, kappa_sp_grid, kappa_sp_grid, k1_sp_blue, k1_sp_red, k1_sp_fit_blue, k1_sp_fit_red),
    (kappa_cr_range, kappa_cr_ticks, kappa_cr_xgrid, kappa_cr_ygrid, k1_c1_blue + k1_c1_blue_more,
     k1_c1_red + k1_c1_red_more, k1_c1_fit_blue, k1_c1_fit_red),
    (kappa_cr_range, kappa_cr_ticks, kappa_cr_xgrid, kappa_cr_ygrid, k1_c2_blue + k1_c2_blue_more,
     k1_c2_red + k1_c2_red_more, k1_c2_fit_blue, k1_c2_fit_red),
    (kappa_sp_range, kappa_sp_ticks, kappa_sp_grid, kappa_sp_grid, k2_sp_blue, k2_sp_red, k2_sp_fit_blue, k2_sp_fit_red),
    (kappa_cr_range, kappa_cr_ticks, kappa_cr_xgrid, kappa_cr_ygrid, k2_c1_blue + k2_c1_blue_more,
     k2_c1_red + k2_c1_red_more, k2_c1_fit_blue, k2_c1_fit_red),
    (kappa_cr_range, kappa_cr_ticks, kappa_cr_xgrid, kappa_cr_ygrid, k2_c2_blue + k2_c2_blue_more,
     k2_c2_red + k2_c2_red_more, k2_c2_fit_blue, k2_c2_fit_red),
    (afd_sp_range, afd_sp_ticks, afd_sp_grid, afd_sp_grid, afd_sp_blue, afd_sp_red, afd_sp_fit_blue, afd_sp_fit_red),
    (afd_cr_range, afd_cr_ticks, afd_cr_grid, afd_cr_grid, afd_c1_blue + afd_c1_blue_more,
     afd_c1_red + afd_c1_red_more, afd_c1_fit_blue, afd_c1_fit_red),
    (afd_cr_range, afd_cr_ticks, afd_cr_grid, afd_cr_grid, afd_c2_blue + afd_c2_blue_more,
     afd_c2_red + afd_c2_red_more, afd_c2_fit_blue, afd_c2_fit_red),
    (fd_range, fd_ticks, fd_sp_xgrid, fd_grid, fd_sp_blue, fd_sp_red, fd_sp_fit_blue, fd_sp_fit_red),
    (fd_range, fd_ticks, fd_grid, fd_grid, fd_c1_blue + fd_c1_blue_more, fd_c1_red + fd_c1_red_more,
     fd_c1_fit_blue, fd_c1_fit_red),
    (fd_range, fd_ticks, fd_grid, fd_grid, fd_c2_blue + fd_c2_blue_more, fd_c2_red + fd_c2_red_more,
     fd_c2_fit_blue, fd_c2_fit_red),
    (fs_sp_range, fs_sp_ticks, fs_sp_grid, fs_sp_grid, fs_sp_blue, fs_sp_red, fs_sp_fit_blue, fs_sp_fit_red),
    (fs_cr_range, fs_cr_ticks, fs_cr_grid, fs_cr_grid, fs_c1_blue + fs_c1_blue_more, fs_c1_red + fs_c1_red_more,
     fs_c1_fit_blue, fs_c1_fit_red),
    (fs_cr_range, fs_cr_ticks, fs_cr_grid, fs_cr_grid, fs_c2_blue + fs_c2_blue_more, fs_c2_red + fs_c2_red_more,
     fs_c2_fit_blue, fs_c2_fit_red),
]

# ---- layout geometry (page pixels; the page body adds an 8 px offset) ----
OFF = 8
W, H = 906 - OFF, 1443 - OFF
col_left = [54.3, 348.3, 639.5]
row_top = [37.7, 315.0, 591.7, 869.3, 1147.3]
PW, PH = 253.5, 254.0


def px_x(px):
    return (px - OFF) / W


def px_y(py):
    return 1 - (py - OFF) / H


def fmt(v, rng):
    if rng in ([0, 45], [15, 30], [0, 3]):
        return str(int(v))
    return f"{v:.1f}"


fig = go.Figure()
layout = dict(
    width=W, height=H, margin=dict(l=0, r=0, t=0, b=0, pad=0, autoexpand=False),
    paper_bgcolor="white", plot_bgcolor="white", showlegend=False,
    font=dict(family=FONT, color="#222222", size=14),
)
shapes = []
annotations = []

for idx, p in enumerate(panels):
    r, c = divmod(idx, 3)
    n = idx + 1
    rng, tks, xg, yg, bpts, rpts, bfit, rfit = p
    sfx = "" if n == 1 else str(n)
    xa, ya = "x" + sfx, "y" + sfx
    L = col_left[c]
    T = row_top[r]
    xdom = [px_x(L), px_x(L + PW)]
    ydom = [px_y(T + PH), px_y(T)]
    axcommon = dict(showline=True, mirror=True, linecolor="#333333", linewidth=1.5,
                    showgrid=False, zeroline=False, ticks="", range=rng, tickmode="array",
                    tickvals=tks, ticktext=[fmt(v, rng) for v in tks], automargin=False,
                    tickfont=dict(family=FONT, size=14, color="#222222"))
    layout["xaxis" + sfx] = dict(domain=xdom, anchor=ya, **axcommon)
    layout["yaxis" + sfx] = dict(domain=ydom, anchor=xa, **axcommon)
    for gv in xg:
        shapes.append(dict(type="line", xref=xa, yref=ya + " domain", x0=gv, x1=gv, y0=0, y1=1,
                           line=dict(color="#c4c4c4", width=1, dash="dot"), layer="below"))
    for gv in yg:
        shapes.append(dict(type="line", xref=xa + " domain", yref=ya, x0=0, x1=1, y0=gv, y1=gv,
                           line=dict(color="#c4c4c4", width=1, dash="dot"), layer="below"))
    fig.add_trace(go.Scatter(x=[q[0] for q in bpts], y=[q[1] for q in bpts], mode="markers",
                             marker=dict(color=BLUE, size=3.5, line=dict(width=0)), xaxis=xa, yaxis=ya))
    fig.add_trace(go.Scatter(x=[q[0] for q in rpts], y=[q[1] for q in rpts], mode="markers",
                             marker=dict(color=RED, size=3.5, line=dict(width=0)), xaxis=xa, yaxis=ya))
    fig.add_trace(go.Scatter(x=rng, y=bfit, mode="lines", line=dict(color=BLUE, width=1.3),
                             xaxis=xa, yaxis=ya))
    fig.add_trace(go.Scatter(x=rng, y=rfit, mode="lines", line=dict(color=RED, width=1.3),
                             xaxis=xa, yaxis=ya))

    lab_size = 34 if r < 2 else (32 if r == 2 else 34)
    annotations.append(dict(xref=xa + " domain", yref=ya + " domain", x=6 / PW, y=1 - 1 / PH,
                            xanchor="left", yanchor="top", showarrow=False,
                            text=row_labels[r], font=dict(family=FONT, size=lab_size, color="black")))
    s6, s8 = r2_order6[r][c], r2_order8[r][c]
    left = 132 if max(len(s6), len(s8)) > 1 else 159
    for txt, col, order, base in ((s6, BLUE, 6, 45), (s8, RED, 8, 21.5)):
        annotations.append(dict(xref=xa + " domain", yref=ya + " domain", x=left / PW, y=base / PH,
                                xanchor="left", yanchor="middle", showarrow=False, borderpad=0,
                                text=f"R<sub>Order{order}</sub> = {txt}",
                                font=dict(family=FONT, size=18, color=col)))
        annotations.append(dict(xref=xa + " domain", yref=ya + " domain", x=(left + 13) / PW,
                                y=(base + 9.5) / PH, xanchor="left", yanchor="middle", showarrow=False,
                                borderpad=0, text="2", font=dict(family=FONT, size=13, color=col)))

for c in range(3):
    annotations.append(dict(xref="paper", yref="paper", x=px_x(col_left[c] + PW / 2), y=px_y(20),
                            xanchor="center", yanchor="middle", showarrow=False, text=col_titles[c],
                            font=dict(family=FONT, size=26, color="#111111")))
    annotations.append(dict(xref="paper", yref="paper", x=px_x(col_left[c] + PW / 2), y=px_y(1428),
                            xanchor="center", yanchor="middle", showarrow=False, text="ground truth",
                            font=dict(family=FONT, size=22, color="#111111")))
for r in range(5):
    annotations.append(dict(xref="paper", yref="paper", x=px_x(20), y=px_y(row_top[r] + PH / 2),
                            xanchor="center", yanchor="middle", showarrow=False, textangle=-90,
                            text="reconstructed value", font=dict(family=FONT, size=22, color="#111111")))

layout["shapes"] = shapes
layout["annotations"] = annotations
fig.update_layout(**layout)
fig.write_html("out.html")
